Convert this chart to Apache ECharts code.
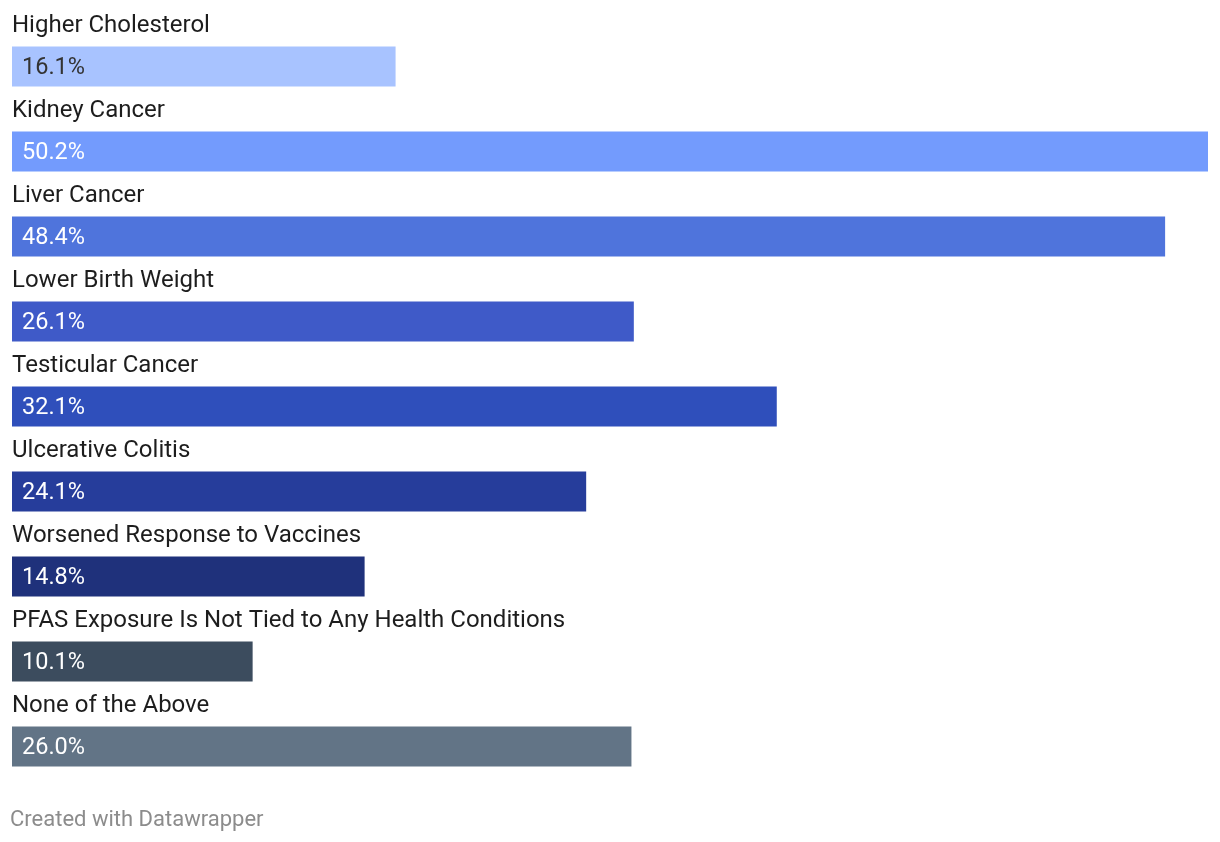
<!DOCTYPE html>
<html><head><meta charset="utf-8">
<script src="https://cdn.jsdelivr.net/npm/echarts@6/dist/echarts.min.js"></script>
<style>html,body{margin:0;padding:0;background:#fff}#c{width:1220px;height:842px}</style>
</head><body><div id="c"></div>
<script>
const categories = ["Higher Cholesterol","Kidney Cancer","Liver Cancer","Lower Birth Weight","Testicular Cancer","Ulcerative Colitis","Worsened Response to Vaccines","PFAS Exposure Is Not Tied to Any Health Conditions","None of the Above"];
const values = [16.1, 50.2, 48.4, 26.1, 32.1, 24.1, 14.8, 10.1, 26.0];
const colors = ["#a8c3ff","#739bfd","#4f74dc","#3f5ac8","#2f4fbb","#263d9b","#1f317b","#3c4c5e","#627486"];
const labelColors = ["#333333","#ffffff","#ffffff","#ffffff","#ffffff","#ffffff","#ffffff","#ffffff","#ffffff"];
const footer = "Created with Datawrapper";

const chart = echarts.init(document.getElementById('c'), null, {renderer:'canvas'});
chart.setOption({
  animation:false,
  grid:{left:12,right:12,top:24,height:765,containLabel:false},
  xAxis:{type:'value',min:0,max:50.2,show:false},
  yAxis:{type:'category',data:categories,inverse:true,show:false},
  series:[{type:'bar',barWidth:40,
    data:values.map((v,i)=>({value:v,itemStyle:{color:colors[i]},
      label:{color:labelColors[i]}})),
    label:{show:true,position:'insideLeft',distance:10,fontFamily:'Roboto',fontSize:23.5,
      offset:[0,1.5],formatter:p=>p.value.toFixed(1)+'%'}},
  {type:'scatter',symbolSize:0,silent:true,itemStyle:{opacity:1,color:'#1d1d1d'},
    data:categories.map((c,i)=>[0,c]),
    label:{show:true,position:'right',distance:0,offset:[0,-40.5],fontFamily:'Roboto',fontSize:24,
      color:'#1d1d1d',opacity:1,formatter:p=>p.value[1]}}],
  graphic:[{type:'text',left:10,top:809,style:{text:footer,fontFamily:'Roboto',fontSize:22,fill:'#8c8c8c'}}]
});
</script></body></html>
